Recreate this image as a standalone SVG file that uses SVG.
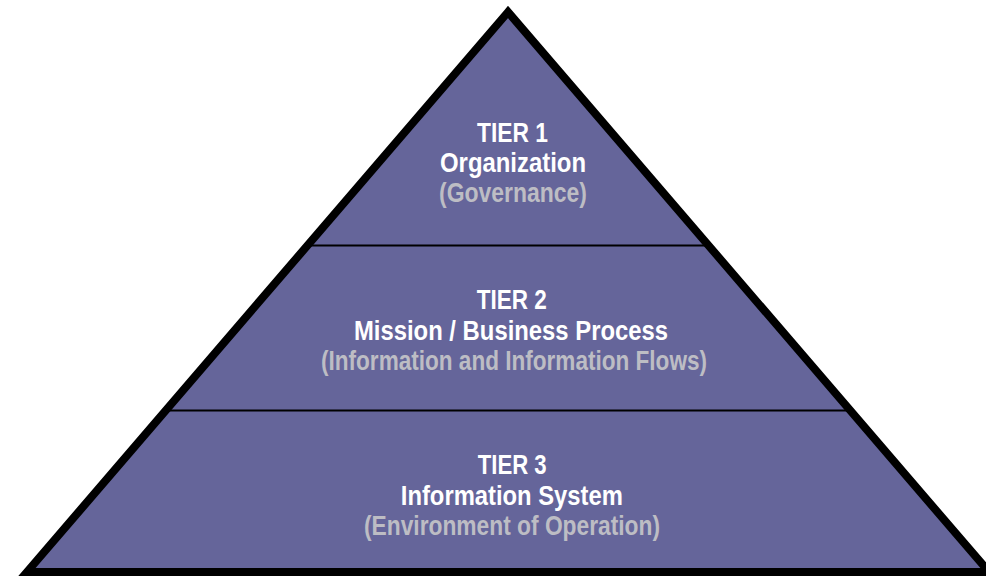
<svg xmlns="http://www.w3.org/2000/svg" width="986" height="576" viewBox="0 0 986 576">
<style>
.tier{fill:#65659A;stroke:none}
.div{stroke:#000;stroke-width:2;fill:none}
.outline{fill:none;stroke:#000;stroke-width:8;stroke-linejoin:miter;stroke-miterlimit:10}
text{font-family:"Liberation Sans Narrow","Liberation Sans",Arial,sans-serif;font-weight:bold;font-size:27px;text-anchor:middle}
.w{fill:#FFFFFF}
.g{fill:#BDBDC4}
</style>
<rect width="986" height="576" fill="#FFFFFF"/>
<g id="tier1">
<polygon class="tier" points="508,12 308.2,245.5 708.8,245.5"/>
<text class="w" x="512.5" y="141.7" textLength="71" lengthAdjust="spacingAndGlyphs">TIER 1</text>
<text class="w" x="513" y="171.7" textLength="146" lengthAdjust="spacingAndGlyphs">Organization</text>
<text class="g" x="513" y="202.3" textLength="148" lengthAdjust="spacingAndGlyphs">(Governance)</text>
</g>
<g id="tier2">
<polygon class="tier" points="308.2,245.5 708.8,245.5 850.4,410.5 165.6,410.5"/>
<text class="w" x="511.7" y="309.2" textLength="70" lengthAdjust="spacingAndGlyphs">TIER 2</text>
<text class="w" x="511" y="339.5" textLength="314" lengthAdjust="spacingAndGlyphs">Mission / Business Process</text>
<text class="g" x="514" y="369.8" textLength="386" lengthAdjust="spacingAndGlyphs">(Information and Information Flows)</text>
</g>
<g id="tier3">
<polygon class="tier" points="165.6,410.5 850.4,410.5 989,572 27,572"/>
<text class="w" x="512.2" y="474.3" textLength="69" lengthAdjust="spacingAndGlyphs">TIER 3</text>
<text class="w" x="511.8" y="504.6" textLength="222" lengthAdjust="spacingAndGlyphs">Information System</text>
<text class="g" x="512" y="534.9" textLength="296" lengthAdjust="spacingAndGlyphs">(Environment of Operation)</text>
</g>
<g id="connectors">
<line class="div" x1="306" y1="245.5" x2="711" y2="245.5"/>
<line class="div" x1="163" y1="410.5" x2="853" y2="410.5"/>
</g>
<polygon class="outline" points="508,12 27,572 989,572"/>
</svg>
